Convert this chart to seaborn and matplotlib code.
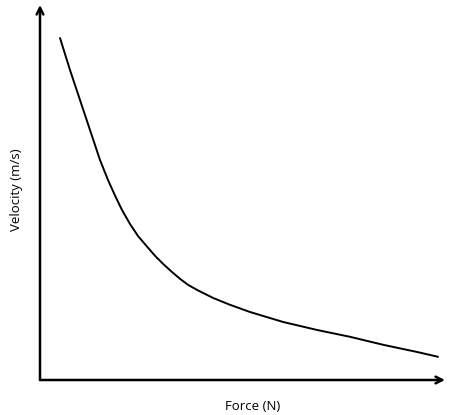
import matplotlib
matplotlib.use("Agg")
import matplotlib.pyplot as plt
import seaborn as sns
import pandas as pd

# values (arbitrary units)
force = [0.5, 0.75, 1.0, 1.25, 1.5, 1.7, 1.88, 2.05, 2.25, 2.45, 2.68, 2.88, 3.08,
         3.3, 3.5, 3.7, 3.93, 4.33, 4.75, 5.25, 6.08, 6.93, 7.75, 8.58, 9.43, 9.95]
velocity = [8.55, 7.75, 7.0, 6.25, 5.5, 5.0, 4.6, 4.25, 3.9, 3.6, 3.33, 3.1, 2.9,
            2.7, 2.53, 2.38, 2.25, 2.05, 1.88, 1.7, 1.45, 1.25, 1.08, 0.88, 0.7, 0.58]
x_label = "Force (N)"
y_label = "Velocity (m/s)"

df = pd.DataFrame({"force": force, "velocity": velocity})

sns.set_theme(style="white")
plt.rcParams['font.family'] = ['Open Sans', 'DejaVu Sans']

fig = plt.figure(figsize=(4.57, 4.15), dpi=100)
ax = fig.add_axes([40 / 457, 35 / 415, 405 / 457, 375 / 415])

sns.lineplot(data=df, x="force", y="velocity", ax=ax, color="black", linewidth=1.4)

ax.set_xlim(0, 405 / 40)
ax.set_ylim(0, 375 / 40)
ax.set_xticks([])
ax.set_yticks([])
ax.set_xlabel("")
ax.set_ylabel("")
for s in ax.spines.values():
    s.set_visible(False)

# axes drawn as arrows
arrow = dict(arrowstyle="->", color="black", lw=1.8, mutation_scale=12, shrinkA=0, shrinkB=0)
ax.annotate("", xy=(1, 0), xytext=(0, 0), xycoords="axes fraction", arrowprops=arrow)
ax.annotate("", xy=(0, 1), xytext=(0, 0), xycoords="axes fraction", arrowprops=arrow)

fig.text(253 / 457, 1 - 406 / 415, x_label, ha="center", va="center",
         fontsize=9.5, color="black")
fig.text(17 / 457, 1 - 190 / 415, y_label, ha="center", va="center", rotation=90,
         fontsize=9.5, color="black")

fig.savefig("out.png", dpi=100)
